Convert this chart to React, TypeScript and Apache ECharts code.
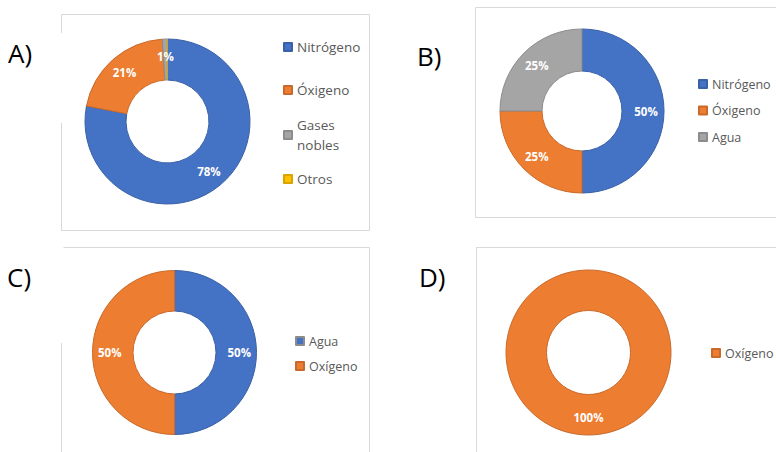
import React, { useEffect, useRef } from "react";
import * as echarts from "echarts";

const BLUE = "#4472C4";
const ORANGE = "#ED7D31";
const GRAY = "#A5A5A5";
const YELLOW = "#FFC000";

const catsA = ["Nitrógeno", "Óxigeno", "Gases nobles", "Otros"];
const valsA = [78, 21, 1, 0];
const colorsA = [BLUE, ORANGE, GRAY, YELLOW];

const catsB = ["Nitrógeno", "Óxigeno", "Agua"];
const valsB = [50, 25, 25];
const colorsB = [BLUE, ORANGE, GRAY];

const catsC = ["Agua", "Oxígeno"];
const valsC = [50, 50];
const colorsC = [BLUE, ORANGE];

const catsD = ["Oxígeno"];
const valsD = [100];
const colorsD = [ORANGE];

const panelLabels = ["A)", "B)", "C)", "D)"];

const darker = (hex: string) => {
  const n = parseInt(hex.slice(1), 16);
  const f = (v: number) => Math.round(v * 0.85);
  const r = f((n >> 16) & 255), g = f((n >> 8) & 255), b = f(n & 255);
  return `rgb(${r},${g},${b})`;
};

const FONT = "Open Sans";

function pieSeries(cats: string[], vals: number[], colors: string[], center: number[], radius: number[]) {
  return {
    type: "pie",
    center,
    radius,
    startAngle: 90,
    clockwise: true,
    avoidLabelOverlap: false,
    silent: true,
    label: {
      show: true,
      position: "inside",
      formatter: "{d}%",
      color: "#ffffff",
      fontFamily: FONT,
      fontWeight: "bold",
      fontSize: 11.5,
    },
    labelLine: { show: false },
    emphasis: { disabled: true },
    data: cats.map((name, i) => ({
      name,
      value: vals[i],
      itemStyle: { color: colors[i], borderColor: darker(colors[i]), borderWidth: 1 },
      label: vals[i] === 0 ? { show: false } : undefined,
    })),
  };
}

function legend(names: string[], colors: string[], left: number, top: number, fontSize: number, gap = 10, extra: any = {}) {
  return {
    orient: "vertical",
    left,
    top,
    padding: 0,
    itemWidth: 8,
    itemHeight: 8,
    itemGap: gap,
    icon: "rect",
    selectedMode: false,
    textStyle: { fontFamily: FONT, fontSize, color: "#595959", lineHeight: 16, ...(extra.textStyle || {}) },
    formatter: extra.formatter,
    data: names.map((name, i) => ({ name, itemStyle: { color: colors[i] } })),
  };
}

export default function App() {
  const ref = useRef<HTMLDivElement>(null);
  useEffect(() => {
    if (!ref.current) return;
    const chart = echarts.init(ref.current, undefined, { renderer: "svg" });
    const frameColor = "#d9d9d9";
    const line = (x1: number, y1: number, x2: number, y2: number) => ({
      type: "line",
      shape: { x1, y1, x2, y2 },
      style: { stroke: frameColor, lineWidth: 1 },
      silent: true,
    });
    const label = (text: string, x: number, y: number) => ({
      type: "text",
      x,
      y,
      style: { text, fontFamily: FONT, fontSize: 26, fill: "#000", textVerticalAlign: "middle", verticalAlign: "middle" },
      silent: true,
    });
    chart.setOption({
      animation: false,
      backgroundColor: "#ffffff",
      graphic: [
        // Frame A
        line(61.5, 14.5, 369.5, 14.5),
        line(369.5, 14.5, 369.5, 230.5),
        line(61.5, 230.5, 369.5, 230.5),
        line(61.5, 14.5, 61.5, 33),
        line(61.5, 123, 61.5, 230.5),
        // Frame B
        line(475.5, 7.5, 776, 7.5),
        line(475.5, 7.5, 475.5, 217.5),
        line(475.5, 217.5, 776, 217.5),
        // Frame C
        line(63.5, 247.5, 369.5, 247.5),
        line(369.5, 247.5, 369.5, 452),
        line(61.5, 343, 61.5, 452),
        // Frame D
        line(476.5, 247.5, 776, 247.5),
        line(476.5, 247.5, 476.5, 452),
        label(panelLabels[0], 8, 53),
        label(panelLabels[1], 417, 56),
        label(panelLabels[2], 7, 277),
        label(panelLabels[3], 419, 277),
      ],
      legend: [
        legend([catsA[0]], [colorsA[0]], 283, 39, 13.5),
        legend([catsA[1]], [colorsA[1]], 283, 82, 13.5),
        legend([catsA[2]], [colorsA[2]], 283, 105, 13.5, 10, {
          formatter: (n: string) => n.replace(" ", "\n"),
          textStyle: { lineHeight: 20, padding: [20, 0, 0, 0] },
        }),
        legend([catsA[3]], [colorsA[3]], 283, 171, 13.5),
        legend(catsB, colorsB, 698, 76, 12.5, 10.5),
        legend(catsC, colorsC, 295, 333, 12.5, 9),
        legend(catsD, colorsD, 711, 345, 12.5),
      ],
      series: [
        pieSeries(catsA, valsA, colorsA, [167.5, 121.5], [41.5, 82.5]),
        pieSeries(catsB, valsB, colorsB, [582, 111], [40, 82]),
        pieSeries(catsC, valsC, colorsC, [174.5, 352.5], [41.5, 82]),
        pieSeries(catsD, valsD, colorsD, [588.5, 352.5], [42, 82.5]),
      ],
    });
    return () => chart.dispose();
  }, []);
  return <div ref={ref} style={{ position: "absolute", left: 0, top: 0, width: 776, height: 452 }} />;
}
